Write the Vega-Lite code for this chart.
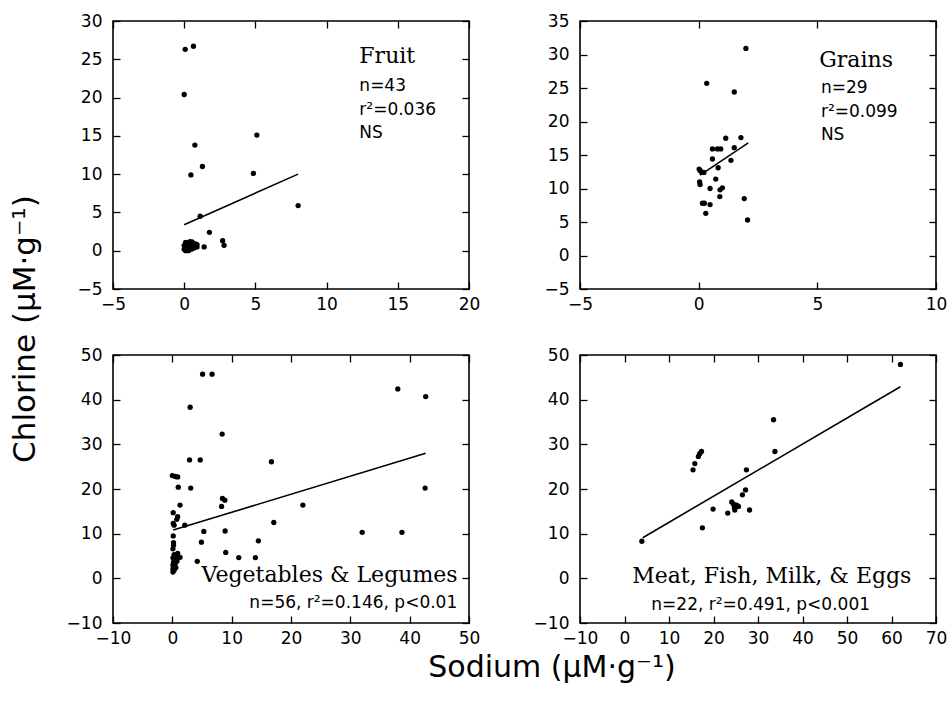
{
  "$schema": "https://vega.github.io/schema/vega-lite/v6.json",
  "padding": {"left": 10, "top": 11, "right": 5, "bottom": 5},
  "background": "white",
  "datasets": {
    "pts": [
      {"group":"Fruit","sodium":0.07,"chlorine":26.3},{"group":"Fruit","sodium":0.65,"chlorine":26.7},{"group":"Fruit","sodium":0.0,"chlorine":20.4},
      {"group":"Fruit","sodium":5.1,"chlorine":15.1},{"group":"Fruit","sodium":0.75,"chlorine":13.8},{"group":"Fruit","sodium":1.28,"chlorine":11.0},
      {"group":"Fruit","sodium":0.47,"chlorine":9.9},{"group":"Fruit","sodium":4.86,"chlorine":10.1},{"group":"Fruit","sodium":8.0,"chlorine":5.9},
      {"group":"Fruit","sodium":1.12,"chlorine":4.5},{"group":"Fruit","sodium":1.77,"chlorine":2.4},{"group":"Fruit","sodium":1.4,"chlorine":0.5},
      {"group":"Fruit","sodium":2.7,"chlorine":1.3},{"group":"Fruit","sodium":2.8,"chlorine":0.7},
      {"group":"Fruit","sodium":0.0,"chlorine":0.2},{"group":"Fruit","sodium":0.1,"chlorine":0.5},{"group":"Fruit","sodium":0.2,"chlorine":0.9},
      {"group":"Fruit","sodium":0.1,"chlorine":1.1},{"group":"Fruit","sodium":0.3,"chlorine":0.0},{"group":"Fruit","sodium":0.3,"chlorine":0.4},
      {"group":"Fruit","sodium":0.4,"chlorine":0.8},{"group":"Fruit","sodium":0.4,"chlorine":1.2},{"group":"Fruit","sodium":0.5,"chlorine":0.2},
      {"group":"Fruit","sodium":0.5,"chlorine":0.6},{"group":"Fruit","sodium":0.6,"chlorine":1.0},{"group":"Fruit","sodium":0.6,"chlorine":0.3},
      {"group":"Fruit","sodium":0.7,"chlorine":0.7},{"group":"Fruit","sodium":0.8,"chlorine":0.5},{"group":"Fruit","sodium":0.9,"chlorine":0.8},
      {"group":"Fruit","sodium":0.2,"chlorine":0.3},{"group":"Fruit","sodium":0.0,"chlorine":0.7},{"group":"Fruit","sodium":0.3,"chlorine":1.0},
      {"group":"Fruit","sodium":0.5,"chlorine":0.9},{"group":"Fruit","sodium":0.7,"chlorine":0.4},{"group":"Fruit","sodium":0.1,"chlorine":0.0},
      {"group":"Fruit","sodium":0.2,"chlorine":0.6},{"group":"Fruit","sodium":0.4,"chlorine":0.5},{"group":"Fruit","sodium":0.6,"chlorine":0.6},
      {"group":"Fruit","sodium":0.8,"chlorine":0.9},{"group":"Fruit","sodium":0.9,"chlorine":0.5},{"group":"Fruit","sodium":0.35,"chlorine":0.15},
      {"group":"Fruit","sodium":0.15,"chlorine":0.85},{"group":"Fruit","sodium":0.55,"chlorine":1.15},

      {"group":"Grains","sodium":1.99,"chlorine":30.9},{"group":"Grains","sodium":0.34,"chlorine":25.7},{"group":"Grains","sodium":1.5,"chlorine":24.4},
      {"group":"Grains","sodium":1.14,"chlorine":17.5},{"group":"Grains","sodium":1.78,"chlorine":17.6},{"group":"Grains","sodium":0.58,"chlorine":15.9},
      {"group":"Grains","sodium":0.79,"chlorine":15.9},{"group":"Grains","sodium":0.93,"chlorine":15.9},{"group":"Grains","sodium":1.5,"chlorine":16.1},
      {"group":"Grains","sodium":0.58,"chlorine":14.4},{"group":"Grains","sodium":1.36,"chlorine":14.2},{"group":"Grains","sodium":0.82,"chlorine":13.1},
      {"group":"Grains","sodium":0.06,"chlorine":12.7},{"group":"Grains","sodium":0.13,"chlorine":12.4},{"group":"Grains","sodium":0.22,"chlorine":12.4},
      {"group":"Grains","sodium":0.02,"chlorine":12.9},{"group":"Grains","sodium":0.04,"chlorine":11.0},{"group":"Grains","sodium":0.06,"chlorine":10.6},
      {"group":"Grains","sodium":0.72,"chlorine":11.4},{"group":"Grains","sodium":0.48,"chlorine":10.0},{"group":"Grains","sodium":0.9,"chlorine":9.8},
      {"group":"Grains","sodium":1.0,"chlorine":10.1},{"group":"Grains","sodium":0.89,"chlorine":8.8},{"group":"Grains","sodium":1.92,"chlorine":8.5},
      {"group":"Grains","sodium":0.16,"chlorine":7.8},{"group":"Grains","sodium":0.24,"chlorine":7.8},{"group":"Grains","sodium":0.48,"chlorine":7.6},
      {"group":"Grains","sodium":0.3,"chlorine":6.3},{"group":"Grains","sodium":2.06,"chlorine":5.3},

      {"group":"Veg","sodium":5.1,"chlorine":45.7},{"group":"Veg","sodium":6.7,"chlorine":45.7},{"group":"Veg","sodium":38.0,"chlorine":42.4},
      {"group":"Veg","sodium":42.7,"chlorine":40.7},{"group":"Veg","sodium":3.0,"chlorine":38.3},{"group":"Veg","sodium":8.4,"chlorine":32.3},
      {"group":"Veg","sodium":2.9,"chlorine":26.5},{"group":"Veg","sodium":4.7,"chlorine":26.5},{"group":"Veg","sodium":16.7,"chlorine":26.1},
      {"group":"Veg","sodium":0.0,"chlorine":23.0},{"group":"Veg","sodium":0.5,"chlorine":22.8},{"group":"Veg","sodium":0.9,"chlorine":22.7},
      {"group":"Veg","sodium":1.0,"chlorine":20.4},{"group":"Veg","sodium":3.1,"chlorine":20.2},{"group":"Veg","sodium":42.6,"chlorine":20.2},
      {"group":"Veg","sodium":8.45,"chlorine":17.9},{"group":"Veg","sodium":8.85,"chlorine":17.5},{"group":"Veg","sodium":8.3,"chlorine":16.1},
      {"group":"Veg","sodium":1.3,"chlorine":16.4},{"group":"Veg","sodium":22.0,"chlorine":16.4},{"group":"Veg","sodium":0.15,"chlorine":14.7},
      {"group":"Veg","sodium":0.9,"chlorine":13.8},{"group":"Veg","sodium":0.75,"chlorine":13.2},{"group":"Veg","sodium":0.15,"chlorine":12.3},
      {"group":"Veg","sodium":0.3,"chlorine":11.9},{"group":"Veg","sodium":2.1,"chlorine":11.9},{"group":"Veg","sodium":17.1,"chlorine":12.5},
      {"group":"Veg","sodium":5.3,"chlorine":10.5},{"group":"Veg","sodium":8.9,"chlorine":10.6},{"group":"Veg","sodium":32.0,"chlorine":10.3},
      {"group":"Veg","sodium":38.7,"chlorine":10.3},{"group":"Veg","sodium":0.15,"chlorine":9.5},{"group":"Veg","sodium":14.5,"chlorine":8.4},
      {"group":"Veg","sodium":4.9,"chlorine":8.1},{"group":"Veg","sodium":0.2,"chlorine":8.0},{"group":"Veg","sodium":0.2,"chlorine":7.4},
      {"group":"Veg","sodium":0.1,"chlorine":6.6},{"group":"Veg","sodium":9.0,"chlorine":5.8},{"group":"Veg","sodium":11.2,"chlorine":4.65},
      {"group":"Veg","sodium":14.0,"chlorine":4.65},{"group":"Veg","sodium":4.2,"chlorine":3.8},{"group":"Veg","sodium":1.3,"chlorine":4.7},
      {"group":"Veg","sodium":0.9,"chlorine":5.6},{"group":"Veg","sodium":0.3,"chlorine":5.3},{"group":"Veg","sodium":0.6,"chlorine":4.9},
      {"group":"Veg","sodium":0.1,"chlorine":4.6},{"group":"Veg","sodium":0.4,"chlorine":4.2},{"group":"Veg","sodium":0.8,"chlorine":3.9},
      {"group":"Veg","sodium":0.2,"chlorine":3.6},{"group":"Veg","sodium":0.5,"chlorine":3.3},{"group":"Veg","sodium":0.1,"chlorine":3.0},
      {"group":"Veg","sodium":0.3,"chlorine":2.7},{"group":"Veg","sodium":0.6,"chlorine":2.4},{"group":"Veg","sodium":0.1,"chlorine":2.1},
      {"group":"Veg","sodium":0.3,"chlorine":1.8},{"group":"Veg","sodium":0.1,"chlorine":1.4},

      {"group":"Meat","sodium":62.0,"chlorine":47.9},{"group":"Meat","sodium":33.5,"chlorine":35.5},{"group":"Meat","sodium":33.8,"chlorine":28.4},
      {"group":"Meat","sodium":17.3,"chlorine":28.4},{"group":"Meat","sodium":16.9,"chlorine":27.9},{"group":"Meat","sodium":16.6,"chlorine":27.3},
      {"group":"Meat","sodium":15.8,"chlorine":25.7},{"group":"Meat","sodium":15.4,"chlorine":24.3},{"group":"Meat","sodium":27.4,"chlorine":24.3},
      {"group":"Meat","sodium":27.2,"chlorine":19.8},{"group":"Meat","sodium":26.5,"chlorine":18.7},{"group":"Meat","sodium":24.1,"chlorine":17.1},
      {"group":"Meat","sodium":24.5,"chlorine":16.6},{"group":"Meat","sodium":25.2,"chlorine":16.4},{"group":"Meat","sodium":25.6,"chlorine":16.1},
      {"group":"Meat","sodium":24.7,"chlorine":15.8},{"group":"Meat","sodium":24.8,"chlorine":15.3},{"group":"Meat","sodium":19.9,"chlorine":15.5},
      {"group":"Meat","sodium":23.2,"chlorine":14.6},{"group":"Meat","sodium":28.1,"chlorine":15.3},{"group":"Meat","sodium":17.5,"chlorine":11.3},
      {"group":"Meat","sodium":3.9,"chlorine":8.3}
    ],
    "fits": [
      {"group":"Fruit","sodium":0.0,"chlorine":3.4},{"group":"Fruit","sodium":8.0,"chlorine":10.0},
      {"group":"Grains","sodium":0.06,"chlorine":12.0},{"group":"Grains","sodium":2.09,"chlorine":16.8},
      {"group":"Veg","sodium":0.15,"chlorine":10.8},{"group":"Veg","sodium":42.7,"chlorine":28.0},
      {"group":"Meat","sodium":4.1,"chlorine":9.1},{"group":"Meat","sodium":62.0,"chlorine":42.9}
    ],
    "notes": [
      {"group":"Fruit","title":"Fruit","stats":["n=43","r²=0.036","NS"]},
      {"group":"Grains","title":"Grains","stats":["n=29","r²=0.099","NS"]},
      {"group":"Veg","title":"Vegetables & Legumes","stats":"n=56, r²=0.146, p<0.01"},
      {"group":"Meat","title":"Meat, Fish, Milk, & Eggs","stats":"n=22, r²=0.491, p<0.001"}
    ]
  },
  "title": {"text": "Sodium (µM·g⁻¹)", "orient": "bottom", "anchor": "middle", "font": "DejaVu Sans", "fontSize": 30, "fontWeight": "normal", "color": "black", "offset": 6, "dx": 73},
  "vconcat": [
    {
      "title": {"text": "Chlorine (µM·g⁻¹)", "orient": "left", "anchor": "middle", "font": "DejaVu Sans", "fontSize": 31, "fontWeight": "normal", "color": "black", "offset": 23},
      "columns": 2,
      "spacing": {"row": 66, "column": 111},
      "bounds": "flush",
      "concat": [
        {
          "width": 356, "height": 268,
          "resolve": {"axis": {"x": "independent", "y": "independent"}},
          "layer": [
            {"data": {"name": "pts"}, "transform": [{"filter": "datum.group == 'Fruit'"}],
             "mark": {"type": "circle", "size": 28, "color": "black", "opacity": 1},
             "encoding": {
               "x": {"field": "sodium", "type": "quantitative", "scale": {"domain": [-5, 20], "nice": false, "zero": false}, "axis": {"values": [-5, 0, 5, 10, 15, 20], "title": null}},
               "y": {"field": "chlorine", "type": "quantitative", "scale": {"domain": [-5, 30], "nice": false, "zero": false}, "axis": {"values": [-5, 0, 5, 10, 15, 20, 25, 30], "title": null}}
             }},
            {"data": {"name": "fits"}, "transform": [{"filter": "datum.group == 'Fruit'"}],
             "mark": {"type": "line", "color": "black", "strokeWidth": 1.6},
             "encoding": {
               "x": {"field": "sodium", "type": "quantitative", "axis": {"orient": "top", "labels": false, "values": [-5, 0, 5, 10, 15, 20], "title": null}},
               "y": {"field": "chlorine", "type": "quantitative", "axis": {"orient": "right", "labels": false, "values": [-5, 0, 5, 10, 15, 20, 25, 30], "title": null}}
             }},
            {"data": {"name": "notes"}, "transform": [{"filter": "datum.group == 'Fruit'"}],
             "mark": {"type": "text", "font": "DejaVu Serif", "fontSize": 22, "align": "left", "baseline": "alphabetic", "color": "black"},
             "encoding": {"text": {"field": "title"}, "x": {"datum": 12.3, "type": "quantitative", "axis": null}, "y": {"datum": 24.5, "type": "quantitative", "axis": null}}},
            {"data": {"name": "notes"}, "transform": [{"filter": "datum.group == 'Fruit'"}],
             "mark": {"type": "text", "font": "DejaVu Sans", "fontSize": 17, "align": "left", "baseline": "alphabetic", "lineHeight": 23.5, "color": "black"},
             "encoding": {"text": {"field": "stats"}, "x": {"datum": 12.3, "type": "quantitative", "axis": null}, "y": {"datum": 20.8, "type": "quantitative", "axis": null}}}
          ]
        },
        {
          "width": 356, "height": 268,
          "resolve": {"axis": {"x": "independent", "y": "independent"}},
          "layer": [
            {"data": {"name": "pts"}, "transform": [{"filter": "datum.group == 'Grains'"}],
             "mark": {"type": "circle", "size": 28, "color": "black", "opacity": 1},
             "encoding": {
               "x": {"field": "sodium", "type": "quantitative", "scale": {"domain": [-5, 10], "nice": false, "zero": false}, "axis": {"values": [-5, 0, 5, 10], "title": null}},
               "y": {"field": "chlorine", "type": "quantitative", "scale": {"domain": [-5, 35], "nice": false, "zero": false}, "axis": {"values": [-5, 0, 5, 10, 15, 20, 25, 30, 35], "title": null}}
             }},
            {"data": {"name": "fits"}, "transform": [{"filter": "datum.group == 'Grains'"}],
             "mark": {"type": "line", "color": "black", "strokeWidth": 1.6},
             "encoding": {
               "x": {"field": "sodium", "type": "quantitative", "axis": {"orient": "top", "labels": false, "values": [-5, 0, 5, 10], "title": null}},
               "y": {"field": "chlorine", "type": "quantitative", "axis": {"orient": "right", "labels": false, "values": [-5, 0, 5, 10, 15, 20, 25, 30, 35], "title": null}}
             }},
            {"data": {"name": "notes"}, "transform": [{"filter": "datum.group == 'Grains'"}],
             "mark": {"type": "text", "font": "DejaVu Serif", "fontSize": 22, "align": "left", "baseline": "alphabetic", "color": "black"},
             "encoding": {"text": {"field": "title"}, "x": {"datum": 5.08, "type": "quantitative", "axis": null}, "y": {"datum": 28.1, "type": "quantitative", "axis": null}}},
            {"data": {"name": "notes"}, "transform": [{"filter": "datum.group == 'Grains'"}],
             "mark": {"type": "text", "font": "DejaVu Sans", "fontSize": 17, "align": "left", "baseline": "alphabetic", "lineHeight": 23.5, "color": "black"},
             "encoding": {"text": {"field": "stats"}, "x": {"datum": 5.15, "type": "quantitative", "axis": null}, "y": {"datum": 24.2, "type": "quantitative", "axis": null}}}
          ]
        },
        {
          "width": 356, "height": 268,
          "resolve": {"axis": {"x": "independent", "y": "independent"}},
          "layer": [
            {"data": {"name": "pts"}, "transform": [{"filter": "datum.group == 'Veg'"}],
             "mark": {"type": "circle", "size": 28, "color": "black", "opacity": 1},
             "encoding": {
               "x": {"field": "sodium", "type": "quantitative", "scale": {"domain": [-10, 50], "nice": false, "zero": false}, "axis": {"values": [-10, 0, 10, 20, 30, 40, 50], "title": null}},
               "y": {"field": "chlorine", "type": "quantitative", "scale": {"domain": [-10, 50], "nice": false, "zero": false}, "axis": {"values": [-10, 0, 10, 20, 30, 40, 50], "title": null}}
             }},
            {"data": {"name": "fits"}, "transform": [{"filter": "datum.group == 'Veg'"}],
             "mark": {"type": "line", "color": "black", "strokeWidth": 1.6},
             "encoding": {
               "x": {"field": "sodium", "type": "quantitative", "axis": {"orient": "top", "labels": false, "values": [-10, 0, 10, 20, 30, 40, 50], "title": null}},
               "y": {"field": "chlorine", "type": "quantitative", "axis": {"orient": "right", "labels": false, "values": [-10, 0, 10, 20, 30, 40, 50], "title": null}}
             }},
            {"data": {"name": "notes"}, "transform": [{"filter": "datum.group == 'Veg'"}],
             "mark": {"type": "text", "font": "DejaVu Serif", "fontSize": 22, "align": "center", "baseline": "alphabetic", "color": "black"},
             "encoding": {"text": {"field": "title"}, "x": {"datum": 26.5, "type": "quantitative", "axis": null}, "y": {"datum": -0.8, "type": "quantitative", "axis": null}}},
            {"data": {"name": "notes"}, "transform": [{"filter": "datum.group == 'Veg'"}],
             "mark": {"type": "text", "font": "DejaVu Sans", "fontSize": 17, "align": "center", "baseline": "alphabetic", "color": "black"},
             "encoding": {"text": {"field": "stats"}, "x": {"datum": 30.5, "type": "quantitative", "axis": null}, "y": {"datum": -6.7, "type": "quantitative", "axis": null}}}
          ]
        },
        {
          "width": 356, "height": 268,
          "resolve": {"axis": {"x": "independent", "y": "independent"}},
          "layer": [
            {"data": {"name": "pts"}, "transform": [{"filter": "datum.group == 'Meat'"}],
             "mark": {"type": "circle", "size": 28, "color": "black", "opacity": 1},
             "encoding": {
               "x": {"field": "sodium", "type": "quantitative", "scale": {"domain": [-10, 70], "nice": false, "zero": false}, "axis": {"values": [-10, 0, 10, 20, 30, 40, 50, 60, 70], "title": null}},
               "y": {"field": "chlorine", "type": "quantitative", "scale": {"domain": [-10, 50], "nice": false, "zero": false}, "axis": {"values": [-10, 0, 10, 20, 30, 40, 50], "title": null}}
             }},
            {"data": {"name": "fits"}, "transform": [{"filter": "datum.group == 'Meat'"}],
             "mark": {"type": "line", "color": "black", "strokeWidth": 1.6},
             "encoding": {
               "x": {"field": "sodium", "type": "quantitative", "axis": {"orient": "top", "labels": false, "values": [-10, 0, 10, 20, 30, 40, 50, 60, 70], "title": null}},
               "y": {"field": "chlorine", "type": "quantitative", "axis": {"orient": "right", "labels": false, "values": [-10, 0, 10, 20, 30, 40, 50], "title": null}}
             }},
            {"data": {"name": "notes"}, "transform": [{"filter": "datum.group == 'Meat'"}],
             "mark": {"type": "text", "font": "DejaVu Serif", "fontSize": 22, "align": "center", "baseline": "alphabetic", "color": "black"},
             "encoding": {"text": {"field": "title"}, "x": {"datum": 33.1, "type": "quantitative", "axis": null}, "y": {"datum": -1.05, "type": "quantitative", "axis": null}}},
            {"data": {"name": "notes"}, "transform": [{"filter": "datum.group == 'Meat'"}],
             "mark": {"type": "text", "font": "DejaVu Sans", "fontSize": 17, "align": "center", "baseline": "alphabetic", "color": "black"},
             "encoding": {"text": {"field": "stats"}, "x": {"datum": 30.6, "type": "quantitative", "axis": null}, "y": {"datum": -7.05, "type": "quantitative", "axis": null}}}
          ]
        }
      ]
    }
  ],
  "config": {
    "view": {"stroke": "black", "strokeWidth": 1.6},
    "axis": {
      "grid": false,
      "domain": false,
      "ticks": true,
      "tickColor": "black",
      "tickWidth": 1.3,
      "tickSize": 7,
      "offset": -7,
      "labelFont": "DejaVu Sans",
      "labelFontSize": 17,
      "labelColor": "black",
      "labelFlush": false,
      "labelOverlap": false
    },
    "axisX": {"labelPadding": 7},
    "axisY": {"labelPadding": 11}
  }
}
